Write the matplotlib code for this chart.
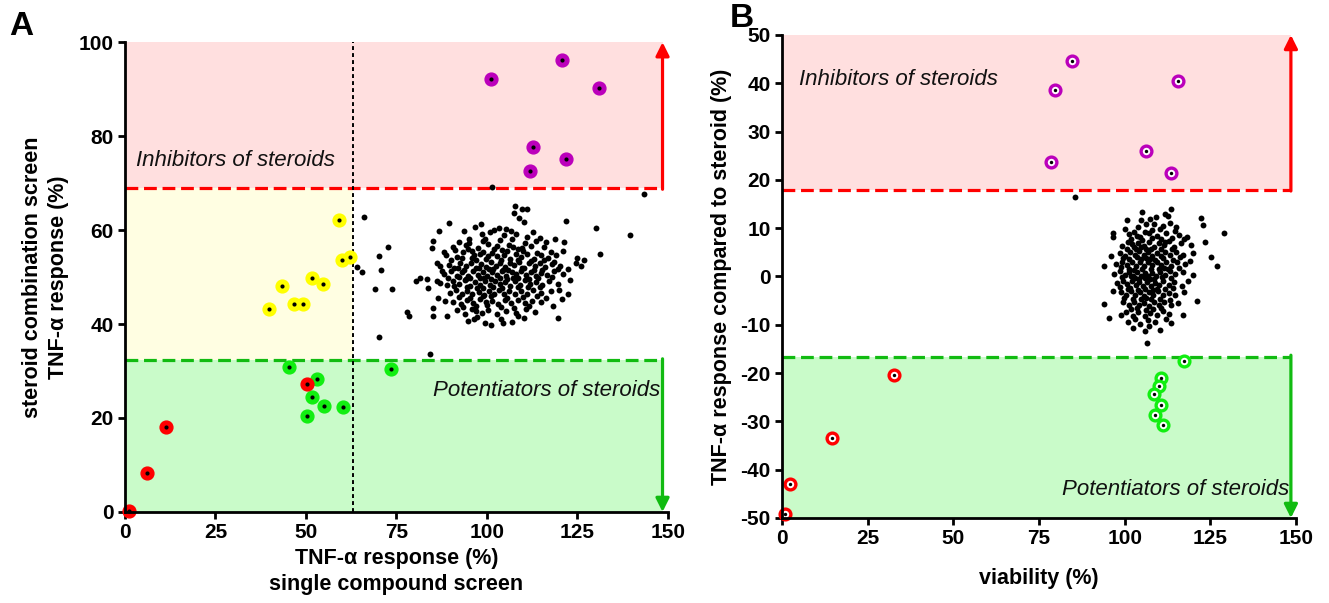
import matplotlib
matplotlib.use('Agg')
import matplotlib.pyplot as plt
from matplotlib.patches import Rectangle

plt.rcParams['font.family'] = ['Liberation Sans', 'DejaVu Sans']
plt.rcParams['axes.unicode_minus'] = False

# ---------------- Panel A data ----------------
a_purple_x = [101.1, 120.6, 130.9, 112.8, 121.8, 112.0]
a_purple_y = [92.1, 96.2, 90.3, 77.6, 75.2, 72.5]
a_yellow_x = [59.2, 59.9, 62.3, 51.6, 54.6, 43.5, 46.7, 49.3, 39.9]
a_yellow_y = [62.1, 53.7, 54.3, 49.8, 48.6, 48.1, 44.3, 44.3, 43.3]
a_green_x = [45.2, 73.6, 53.0, 51.6, 55.0, 60.3, 50.2]
a_green_y = [30.8, 30.4, 28.2, 24.4, 22.6, 22.4, 20.5]
a_red_x = [50.2, 11.4, 6.0, 1.0]
a_red_y = [27.3, 18.1, 8.2, 0.1]
a_cloud = [
    (107.7, 65.2), (109.8, 64.5), (111.1, 64.5), (107.5, 63.6), (101.5, 69.2), (143.5, 67.7),
    (108.9, 62.5), (110.2, 61.8), (121.8, 61.9), (98.3, 61.4), (89.6, 61.6), (66.0, 62.8),
    (96.7, 60.7), (93.7, 59.8), (86.8, 59.8), (105.2, 60.3), (101.9, 60.0), (103.4, 60.4), (100.8, 59.6), (130.0, 60.4),
    (85.0, 57.7), (114.6, 58.4), (118.8, 58.1), (121.3, 57.5), (111.0, 58.6), (104.7, 58.9), (107.9, 59.1),
    (99.4, 58.2), (95.1, 58.0), (139.5, 59.0), (92.3, 57.4),
    (84.7, 56.1), (72.6, 56.3), (120.9, 55.5), (90.5, 56.4), (94.2, 56.9), (97.6, 56.2), (100.3, 57.1), (102.8, 56.6),
    (106.1, 56.9), (108.5, 55.9), (112.3, 56.7), (115.7, 56.3), (117.8, 55.4), (96.0, 55.6), (104.1, 55.7), (110.6, 57.2),
    (70.3, 54.5), (131.3, 55.0), (88.6, 54.8), (91.7, 54.3), (93.5, 55.3), (95.8, 54.1), (98.1, 54.9), (99.7, 53.9),
    (101.3, 55.2), (102.9, 54.4), (104.6, 54.8), (106.4, 53.8), (107.9, 55.0), (109.5, 54.2), (111.2, 54.9), (113.0, 53.9),
    (114.8, 54.6), (116.9, 54.0), (119.2, 54.8), (97.0, 53.6), (105.5, 55.5), (125.0, 54.0),
    (64.0, 52.2), (87.0, 52.4), (124.6, 52.9), (126.7, 53.7), (126.0, 52.3), (86.3, 53.0), (89.4, 52.6), (90.8, 51.9),
    (92.6, 53.1), (94.1, 52.3), (95.5, 53.0), (96.9, 52.0), (98.4, 52.8), (99.8, 52.1), (101.0, 53.2), (102.4, 52.4),
    (103.7, 53.0), (105.0, 52.2), (106.3, 53.1), (107.6, 52.5), (108.9, 53.2), (110.3, 52.0), (111.7, 52.9), (113.2, 52.3),
    (114.6, 53.0), (116.0, 52.1), (117.9, 52.8), (120.1, 52.4), (122.4, 51.8), (100.5, 51.7), (104.3, 51.6),
    (65.4, 51.1), (70.6, 51.5), (88.2, 50.7), (90.0, 51.2), (91.6, 50.3), (93.2, 51.0), (94.7, 50.2), (96.1, 51.3),
    (97.5, 50.5), (98.8, 51.1), (100.1, 50.2), (101.5, 51.0), (102.8, 50.4), (104.1, 51.2), (105.4, 50.3), (106.8, 51.0),
    (108.1, 50.6), (109.4, 51.3), (110.8, 50.4), (112.1, 51.1), (113.5, 50.2), (115.0, 50.9), (116.6, 50.5), (118.5, 51.2),
    (121.0, 50.6), (99.3, 49.8), (103.5, 49.9), (107.2, 49.7), (95.4, 49.9),
    (80.4, 49.1), (81.5, 49.7), (83.5, 49.6), (86.3, 49.1), (87.0, 48.7), (89.1, 48.3), (90.7, 49.2), (92.2, 48.5),
    (93.8, 49.3), (95.2, 48.2), (96.7, 49.0), (98.0, 48.4), (99.5, 49.1), (100.9, 48.3), (102.2, 49.2), (103.6, 48.5),
    (105.0, 49.0), (106.4, 48.2), (107.8, 49.1), (109.2, 48.4), (110.6, 49.3), (112.0, 48.6), (113.6, 49.0), (115.3, 48.3),
    (117.1, 49.2), (119.5, 48.5), (101.7, 47.8), (97.3, 47.7),
    (69.0, 47.5), (73.9, 47.4), (83.8, 47.7), (89.8, 46.6), (91.5, 47.2), (93.1, 46.3), (94.6, 47.1), (96.0, 46.4),
    (97.9, 46.9), (99.2, 46.2), (100.6, 47.0), (102.0, 46.5), (103.4, 47.2), (104.8, 46.3), (106.2, 47.0), (107.7, 46.4),
    (109.3, 47.1), (111.0, 46.5), (112.8, 47.3), (114.9, 46.6), (117.6, 47.0),
    (90.5, 44.8), (92.7, 44.2), (94.4, 45.1), (96.2, 44.4), (98.0, 45.3), (99.7, 44.6), (101.5, 45.0), (103.1, 44.3),
    (104.9, 45.2), (106.7, 44.5), (108.6, 45.1), (110.5, 44.4), (112.5, 45.0), (114.9, 44.6), (120.6, 45.3), (97.1, 43.9),
    (77.8, 42.5), (78.5, 41.8), (85.0, 43.5), (91.8, 42.9), (94.0, 42.2), (95.9, 43.1), (98.5, 42.3), (100.4, 43.0),
    (102.9, 42.1), (105.3, 42.8), (108.1, 42.4), (110.7, 43.2), (113.4, 42.6),
    (85.0, 41.7), (89.1, 41.8), (94.8, 40.6), (97.2, 41.4), (99.6, 40.2), (103.8, 41.0), (106.9, 40.5), (110.2, 41.3),
    (119.7, 41.3), (101.2, 39.8),
    (70.3, 37.3), (84.3, 33.6),
    # denser core
    (95.0, 57.3), (98.9, 57.6), (103.6, 57.8), (107.0, 58.0), (109.7, 56.1), (113.5, 57.6), (91.3, 55.7), (94.8, 55.9),
    (99.0, 55.4), (102.0, 55.9), (107.2, 56.3), (110.0, 55.5), (113.9, 55.2), (90.2, 53.6), (93.0, 54.0), (96.3, 54.6),
    (100.4, 54.5), (103.9, 53.7), (108.6, 53.7), (112.2, 53.4), (115.7, 53.6), (118.4, 53.3), (91.9, 52.0), (93.6, 51.6),
    (97.7, 51.9), (101.8, 51.8), (105.8, 51.5), (109.6, 51.9), (112.9, 51.6), (115.1, 51.6), (119.5, 51.8), (89.2, 49.7),
    (92.4, 50.0), (94.1, 49.6), (98.1, 49.8), (101.0, 49.5), (105.5, 49.6), (108.7, 49.8), (111.5, 49.5), (114.2, 49.7),
    (117.9, 50.0), (91.0, 48.0), (94.5, 47.8), (99.0, 47.6), (104.2, 47.7), (108.5, 47.8), (111.4, 47.8), (114.6, 47.9),
    (92.3, 45.8), (95.3, 45.6), (98.8, 45.9), (101.1, 46.0), (105.6, 45.6), (109.9, 45.8), (113.7, 46.0), (116.2, 45.5),
    (93.3, 43.6), (97.0, 42.7), (100.0, 44.0), (103.8, 43.6), (107.4, 43.5), (111.6, 43.8), (96.4, 41.0), (104.5, 40.2),
    (108.5, 41.8), (98.6, 59.2), (106.6, 59.8), (112.7, 59.6), (116.4, 57.4), (88.0, 55.3), (87.6, 51.3), (119.9, 47.2),
    (123.0, 49.4), (122.5, 46.3), (118.2, 43.9), (88.5, 45.0), (86.5, 45.5),
]

# ---------------- Panel B data ----------------
b_purple_x = [84.7, 79.7, 115.7, 106.2, 78.4, 113.6]
b_purple_y = [44.6, 38.6, 40.5, 26.0, 23.6, 21.4]
b_green_x = [117.4, 110.5, 110.1, 108.6, 110.5, 108.9, 111.1]
b_green_y = [-17.6, -21.1, -22.7, -24.3, -26.6, -28.6, -30.7]
b_red_x = [32.7, 14.7, 2.3, 1.0]
b_red_y = [-20.3, -33.4, -42.9, -49.1]
b_cloud = [
    (85.4, 16.4),
    (105.1, 13.4), (113.5, 13.9), (111.8, 13.0), (100.8, 11.6), (122.4, 12.2), (109.0, 12.4), (107.3, 11.9),
    (108.6, 10.8), (122.9, 10.6), (103.9, 10.2), (111.1, 10.5), (113.3, 11.1), (115.0, 10.3), (106.1, 10.9), (110.2, 9.8),
    (96.7, 9.1), (96.5, 8.2), (128.9, 9.1), (101.2, 8.7), (104.5, 8.1), (107.0, 9.0), (109.3, 8.3), (112.0, 8.9),
    (113.9, 8.0), (115.9, 8.6), (118.3, 8.2), (102.8, 9.3), (110.7, 7.7),
    (123.4, 7.2), (99.2, 6.4), (100.9, 7.2), (102.6, 6.1), (104.0, 7.0), (105.6, 6.3), (107.1, 7.1), (108.5, 6.2),
    (109.9, 7.0), (111.4, 6.5), (112.9, 7.3), (114.5, 6.2), (116.5, 6.9), (119.4, 6.6), (106.3, 5.7), (103.3, 5.6),
    (125.3, 4.1), (98.5, 4.8), (100.2, 4.2), (101.6, 5.0), (102.9, 4.4), (104.2, 5.2), (105.5, 4.5), (106.8, 5.0),
    (108.0, 4.2), (109.3, 4.9), (110.6, 4.3), (111.9, 5.1), (113.3, 4.5), (114.9, 5.0), (117.0, 4.4), (120.0, 4.9),
    (107.4, 3.7), (104.8, 3.6),
    (94.1, 2.2), (126.8, 2.1), (97.5, 2.6), (99.3, 3.1), (100.7, 2.3), (102.0, 3.0), (103.2, 2.2), (104.4, 2.9),
    (105.6, 2.1), (106.9, 3.0), (108.1, 2.4), (109.4, 3.1), (110.7, 2.3), (112.1, 2.9), (113.6, 2.2), (115.4, 3.0),
    (117.6, 2.5), (101.4, 1.6), (111.4, 1.7),
    (96.8, 0.6), (98.6, 1.2), (100.1, 0.3), (101.3, 1.0), (102.5, 0.2), (103.6, 0.9), (104.7, 0.1), (105.8, 0.8),
    (106.9, 0.0), (108.0, 0.7), (109.2, 0.2), (110.4, 1.0), (111.7, 0.4), (113.1, 1.1), (114.8, 0.5), (116.9, 0.9),
    (119.8, 0.3), (103.0, -0.4), (107.5, -0.5),
    (97.8, -1.3), (99.5, -0.9), (100.8, -1.6), (102.0, -1.0), (103.2, -1.8), (104.3, -1.1), (105.4, -1.9), (106.5, -1.2),
    (107.6, -2.0), (108.8, -1.3), (110.0, -1.8), (111.3, -1.0), (112.8, -1.7), (114.5, -1.2), (116.6, -1.9),
    (101.5, -2.4), (109.4, -2.5),
    (98.9, -3.2), (100.4, -3.8), (101.8, -3.1), (103.1, -3.9), (104.4, -3.3), (105.7, -4.0), (107.0, -3.2), (108.3, -3.8),
    (109.7, -3.1), (111.2, -3.9), (112.8, -3.4), (114.7, -3.8), (117.4, -3.3), (106.2, -4.5),
    (94.1, -5.8), (121.2, -5.1), (99.6, -5.3), (101.2, -5.9), (102.7, -5.2), (104.1, -6.0), (105.5, -5.4), (107.0, -6.1),
    (108.5, -5.3), (110.0, -5.9), (111.6, -5.2), (113.4, -6.0), (115.7, -5.5),
    (95.3, -8.6), (117.0, -8.0), (100.5, -7.4), (102.3, -8.1), (104.0, -7.3), (105.8, -8.2), (107.5, -7.5), (109.3, -8.0),
    (111.1, -7.2), (113.0, -7.8), (103.1, -8.9),
    (113.5, -9.7), (110.3, -11.0), (101.0, -9.5), (104.6, -9.8), (107.2, -10.3), (108.8, -9.4), (105.9, -11.2), (102.4, -10.7),
    (106.4, -13.8),
    # denser core
    (100.0, 9.9), (104.8, 11.6), (112.5, 12.5), (103.5, 8.4), (105.8, 9.3), (108.0, 9.6), (114.6, 9.5), (101.8, 7.8),
    (105.0, 7.6), (108.0, 7.9), (111.8, 7.2), (117.2, 7.7), (100.6, 5.6), (102.0, 6.7), (104.8, 6.1), (107.8, 5.6),
    (110.5, 5.6), (113.7, 5.7), (99.6, 3.8), (101.3, 3.6), (103.6, 4.0), (106.2, 3.9), (108.8, 3.5), (111.2, 3.8),
    (114.1, 3.5), (116.1, 4.0), (98.8, 2.0), (102.8, 1.4), (105.0, 1.6), (107.6, 1.5), (110.0, 1.6), (112.7, 1.6),
    (115.9, 1.8), (99.2, -0.2), (101.9, 0.1), (104.1, -0.6), (106.0, -0.3), (108.6, -0.5), (110.9, -0.2), (113.6, -0.3),
    (98.6, -2.2), (101.0, -2.6), (103.8, -2.7), (106.0, -2.6), (108.2, -2.9), (111.9, -2.6), (114.0, -2.4), (99.9, -4.5),
    (102.5, -4.6), (104.9, -4.7), (107.7, -4.6), (110.4, -4.7), (113.1, -4.8), (101.7, -6.8), (103.7, -6.6), (106.3, -7.0),
    (108.3, -6.7), (110.7, -6.6), (112.2, -8.8), (106.7, -9.1), (99.0, -8.0), (96.5, -3.0), (96.0, 4.2), (118.5, -1.0),
    (119.0, 3.2),
]

# thresholds
a_inhib_thr, a_pot_thr, a_single_thr = 69.0, 32.3, 63.0
b_inhib_thr, b_pot_thr = 18.0, -16.6
arrow_x = 148.5

PURPLE = '#bb00bb'
YELLOW = '#ffff00'
GREEN = '#11ee11'
RED = '#ff0000'
PINK_BG = '#ffdfdf'
YEL_BG = '#fffee2'
GRN_BG = '#c9fbc9'
RED_LINE = '#ff0000'
GRN_LINE = '#11bb11'

fig = plt.figure(figsize=(13.29, 6.03), dpi=100)
axA = fig.add_axes([0.094, 0.151, 0.4086, 0.779])
axB = fig.add_axes([0.5884, 0.141, 0.3868, 0.801])

dash = (0, (4, 1.8))


def style_axes(ax):
    for s in ['top', 'right']:
        ax.spines[s].set_visible(False)
    for s in ['left', 'bottom']:
        ax.spines[s].set_linewidth(2.0)
        ax.spines[s].set_zorder(10)
    ax.tick_params(direction='out', length=5, width=2.0, pad=3, labelsize=15)
    for lab in ax.get_xticklabels() + ax.get_yticklabels():
        lab.set_fontweight('bold')


def draw_bands(ax, ymin, ymax, top_thr, bot_thr):
    ax.add_patch(Rectangle((0, top_thr), arrow_x, ymax - top_thr, facecolor=PINK_BG, edgecolor='none', zorder=0))
    ax.add_patch(Rectangle((0, ymin), arrow_x, bot_thr - ymin, facecolor=GRN_BG, edgecolor='none', zorder=0))
    ax.plot([0, arrow_x], [top_thr, top_thr], color=RED_LINE, lw=2.3, linestyle=dash, zorder=2, clip_on=False)
    ax.plot([0, arrow_x], [bot_thr, bot_thr], color=GRN_LINE, lw=2.3, linestyle=dash, zorder=2, clip_on=False)
    ax.annotate('', xy=(arrow_x, ymax), xytext=(arrow_x, top_thr - 0.3),
                arrowprops=dict(arrowstyle='-|>', color=RED_LINE, lw=2.3, mutation_scale=20,
                                shrinkA=0, shrinkB=0), zorder=3, annotation_clip=False)
    ax.annotate('', xy=(arrow_x, ymin), xytext=(arrow_x, bot_thr + 0.3),
                arrowprops=dict(arrowstyle='-|>', color=GRN_LINE, lw=2.3, mutation_scale=20,
                                shrinkA=0, shrinkB=0), zorder=3, annotation_clip=False)


def filled(ax, xs, ys, color, s=85, dot=9):
    ax.scatter(xs, ys, s=s, facecolor=color, edgecolor=color, linewidth=1, zorder=6, clip_on=False)
    ax.scatter(xs, ys, s=dot, color='black', zorder=7, clip_on=False, linewidth=0)


def ringed(ax, xs, ys, color, s=60, dot=6):
    ax.scatter(xs, ys, s=s, facecolor='white', edgecolor=color, linewidth=2.4, zorder=6, clip_on=False)
    ax.scatter(xs, ys, s=dot, color='black', zorder=7, clip_on=False, linewidth=0)


# ---------------- Panel A ----------------
axA.set_xlim(0, 150)
axA.set_ylim(0, 100)
draw_bands(axA, 0, 100, a_inhib_thr, a_pot_thr)
axA.add_patch(Rectangle((0, a_pot_thr), a_single_thr, a_inhib_thr - a_pot_thr,
                        facecolor=YEL_BG, edgecolor='none', zorder=0))
axA.plot([a_single_thr, a_single_thr], [0, 100], color='black', lw=1.4, linestyle=(0, (2, 1.6)), zorder=4)
axA.scatter([p[0] for p in a_cloud], [p[1] for p in a_cloud], s=18, color='black', linewidth=0, zorder=5)
filled(axA, a_yellow_x, a_yellow_y, YELLOW)
filled(axA, a_green_x, a_green_y, GREEN)
filled(axA, a_purple_x, a_purple_y, PURPLE)
filled(axA, a_red_x, a_red_y, RED)
axA.text(3, 73.6, 'Inhibitors of steroids', fontsize=16, style='italic', color='#111111', zorder=8)
axA.text(148, 24.6, 'Potentiators of steroids', fontsize=16, style='italic', color='#111111',
         ha='right', zorder=8)
axA.set_xticks([0, 25, 50, 75, 100, 125, 150])
axA.set_yticks([0, 20, 40, 60, 80, 100])
style_axes(axA)
axA.set_xlabel('TNF-α response (%)\nsingle compound screen', fontsize=15.5, fontweight='bold',
               linespacing=1.35, labelpad=4)
axA.set_ylabel('steroid combination screen\nTNF-α response (%)', fontsize=15.5, fontweight='bold',
               linespacing=1.3, labelpad=7)

# ---------------- Panel B ----------------
axB.set_xlim(0, 150)
axB.set_ylim(-50, 50)
draw_bands(axB, -50, 50, b_inhib_thr, b_pot_thr)
axB.scatter([p[0] for p in b_cloud], [p[1] for p in b_cloud], s=18, color='black', linewidth=0, zorder=5)
ringed(axB, b_purple_x, b_purple_y, PURPLE)
ringed(axB, b_green_x, b_green_y, GREEN)
ringed(axB, b_red_x, b_red_y, RED)
axB.text(5, 39.6, 'Inhibitors of steroids', fontsize=16, style='italic', color='#111111', zorder=8)
axB.text(148, -45.2, 'Potentiators of steroids', fontsize=16, style='italic', color='#111111',
         ha='right', zorder=8)
axB.set_xticks([0, 25, 50, 75, 100, 125, 150])
axB.set_yticks(list(range(-50, 51, 10)))
style_axes(axB)
axB.set_xlabel('viability (%)', fontsize=15.5, fontweight='bold', labelpad=14)
axB.set_ylabel('TNF-α response compared to steroid (%)', fontsize=15.5, fontweight='bold', labelpad=6)

fig.text(0.007, 0.942, 'A', fontsize=24, fontweight='bold')
fig.text(0.549, 0.955, 'B', fontsize=24, fontweight='bold')

fig.savefig('out.png', dpi=100)
